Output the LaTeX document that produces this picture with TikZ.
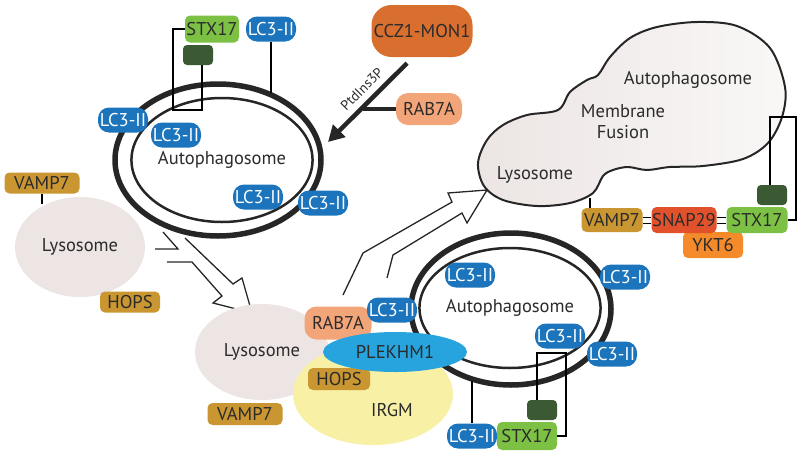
\documentclass[tikz,border=0pt]{standalone}
\usepackage{fontspec}
\setmainfont{PT Sans}
\usetikzlibrary{shapes.geometric,arrows.meta}
\definecolor{lcblue}{HTML}{1C75BC}
\definecolor{plekblue}{HTML}{27A3DD}
\definecolor{stxgreen}{HTML}{7CC144}
\definecolor{sqgreen}{HTML}{3B5A33}
\definecolor{vampgold}{HTML}{C99632}
\definecolor{cczorange}{HTML}{D86F2E}
\definecolor{rabpeach}{HTML}{F3A57A}
\definecolor{snapred}{HTML}{E1522C}
\definecolor{yktorange}{HTML}{F48A2A}
\definecolor{irgm}{HTML}{F7F0A5}
\definecolor{lyso}{HTML}{ECE5E4}
\definecolor{txt}{HTML}{2B2B2B}
\begin{document}
\begin{tikzpicture}[x=1pt,y=-1pt,font=\fontsize{18.5}{21}\selectfont,text=txt,
  prot/.style={rectangle,rounded corners=5,inner sep=0pt,text=txt,minimum height=24,minimum width=60},
  lc/.style={prot,fill=lcblue,text=white,minimum width=50,minimum height=25,rounded corners=11},
  stx/.style={prot,fill=stxgreen,minimum width=54,minimum height=27},
  sq/.style={prot,fill=sqgreen,minimum width=30,minimum height=20,rounded corners=4},
  gold/.style={prot,fill=vampgold},
  membrana/.style={ellipse,draw=black!85,inner sep=0pt},
  hueca/.style={line width=1.3,draw=black!85}]
\useasboundingbox (0,0) rectangle (800,453);
% Fusion de membranas (arriba derecha)
\draw[line width=2,draw=black!85,left color=lyso,middle color=lyso!70,right color=white!70!lyso]
  plot[smooth cycle,tension=.55] coordinates {(478,163) (487,140) (503,125) (527,115) (558,110)
  (570,92) (587,80) (598,75) (610,57) (630,38) (657,27) (697,22) (737,26) (770,48) (785,87)
  (782,117) (768,143) (743,159) (703,166) (670,167) (647,170) (628,167) (613,170) (603,176)
  (593,193) (570,203) (537,206) (503,200) (484,186)};
\node (apoTxt) at (688,80) {Autophagosome};
\node[align=center] (fusTxt) at (623,122) {Membrane\\Fusion};
\node (lysoTxt) at (535,175) {Lysosome};
\coordinate (lysoR) at (590,198);
% Autofagosoma superior
\node[membrana,line width=5.5,minimum width=206,minimum height=152] (apoO) at (218,160) {};
\node[membrana,line width=2.5,minimum width=160,minimum height=124] (apoI) at (222,160) {Autophagosome};
% STX17 y LC3-II arriba
\node[stx] (stxA) at (212,29) {STX17};
\node[lc] (lcA1) at (271,29) {LC3-II};
\node[sq] (sqA) at (198,55) {};
\draw[line width=1.5] (stxA.west) -- ++(-12,0) -- ++(0,81) -| ([xshift=4]sqA.south);
\draw[line width=1.5] (lcA1.south) -- (lcA1.south |- apoO.51);
\node[lc] (lcA2) at (123,120) {LC3-II};
\node[lc] (lcA3) at (176,135) {LC3-II};
\node[lc] (lcA4) at (258,197) {LC3-II};
\node[lc] (lcA5) at (323,203) {LC3-II};
% CCZ1-MON1 y RAB7A
\node[prot,fill=cczorange,minimum width=101,minimum height=52,rounded corners=20] (ccz) at (422,31) {CCZ1-MON1};
\node[prot,fill=rabpeach,minimum width=66,minimum height=32,rounded corners=12] (rabT) at (429,109) {RAB7A};
\coordinate (ptdEnd) at (328,142);
\coordinate (rabHit) at (363,109);
\draw[line width=4.5,draw=black!85,-{Triangle[length=16pt,width=17pt]}] ([xshift=-15pt,yshift=-6pt]ccz.south) -- (ptdEnd)
  node[pos=.45,sloped,above=3pt,font=\fontsize{14}{16}\selectfont] {PtdIns3P};
\draw[line width=4,draw=black!85] (rabT.west) -- (rabHit);
% Lisosoma izquierdo
\node[ellipse,fill=lyso,minimum width=130,minimum height=100,inner sep=0pt] (lysoL) at (80,247) {Lysosome};
\node[gold,minimum width=75,minimum height=21] (vampL) at (42,183) {VAMP7};
\node[gold,minimum width=60,minimum height=21] (hopsL) at (130,302) {HOPS};
\draw[line width=2] (vampL.south) -- (vampL.south |- lysoL.128);
% Flecha hueca hacia abajo
\draw[hueca] (163,232) -- (178,249) -- (155,249);
\draw[hueca] (185,238) -- (233,284) -- (242,278) -- (252,313) -- (213,303) -- (222,296) -- (192,262) -- (167,262);
% Lisosoma inferior e IRGM
\node[ellipse,fill=lyso,minimum width=134,minimum height=96,inner sep=0pt] (lysoB) at (262,352) {Lysosome};
\node[gold,minimum width=75,minimum height=22] (vampB) at (245,414) {VAMP7};
\node[ellipse,fill=irgm,minimum width=160,minimum height=102,inner sep=0pt] (irgmE) at (373,394) {};
\node (irgmTxt) at (392,410) {IRGM};
% Autofagosoma inferior
\node[membrana,line width=5.5,minimum width=200,minimum height=152] (apoBo) at (511,309) {};
\node[membrana,line width=2.5,minimum width=166,minimum height=120] (apoBi) at (510,308) {Autophagosome};
% HOPS, RAB7A, PLEKHM1
\node[gold,minimum width=62,minimum height=22] (hopsB) at (339,379) {HOPS};
\node[prot,fill=rabpeach,minimum width=67,minimum height=33,rounded corners=12] (rabB) at (338,323) {RAB7A};
\node[ellipse,fill=plekblue,minimum width=144,minimum height=40,inner sep=0pt] (plek) at (395,352) {PLEKHM1};
\node[lc] (lcB1) at (392,310) {LC3-II};
% Flecha hueca hacia la fusion
\draw[hueca] (343,295) -- (363,253) -- (452,202) -- (448,193) -- (487,190) -- (467,223) -- (462,213) -- (393,255) -- (387,278);
% LC3-II y STX17 abajo
\node[lc] (lcB2) at (470,275) {LC3-II};
\node[lc] (lcB3) at (625,277) {LC3-II};
\node[lc] (lcB4) at (560,336) {LC3-II};
\node[lc] (lcB5) at (612,354) {LC3-II};
\node[sq] (sqB) at (542,410) {};
\node[lc] (lcB6) at (472,436) {LC3-II};
\node[stx,minimum width=60,minimum height=28] (stxB) at (527,436) {STX17};
\draw[line width=1.5] (lcB6.north) -- (lcB6.north |- apoBo.241);
\draw[line width=1.5] (stxB.east) -- ++(9,0) -- ++(0,-83) -| ([xshift=-5]sqB.north);
% SNARE a la derecha
\node[gold,minimum width=61,minimum height=24] (vampR) at (612,220) {VAMP7};
\node[prot,fill=yktorange,minimum width=60,minimum height=26] (ykt) at (713,245) {YKT6};
\node[prot,fill=snapred,minimum width=65,minimum height=26] (snap) at (684,220) {SNAP29};
\node[stx,minimum width=61,minimum height=26] (stxR) at (757,220) {STX17};
\node[sq] (sqR) at (772,195) {};
\draw[line width=2] ([xshift=-22pt]vampR.north) -- (lysoR);
\draw[line width=1,double,double distance=5pt] (vampR.east) -- (snap.west);
\draw[line width=1,double,double distance=5pt] (snap.east) -- (stxR.west);
\draw[line width=2] (stxR.east) -- ++(8,0) -- ++(0,-103) -| ([xshift=-2pt]sqR.north);
\end{tikzpicture}
\end{document}
